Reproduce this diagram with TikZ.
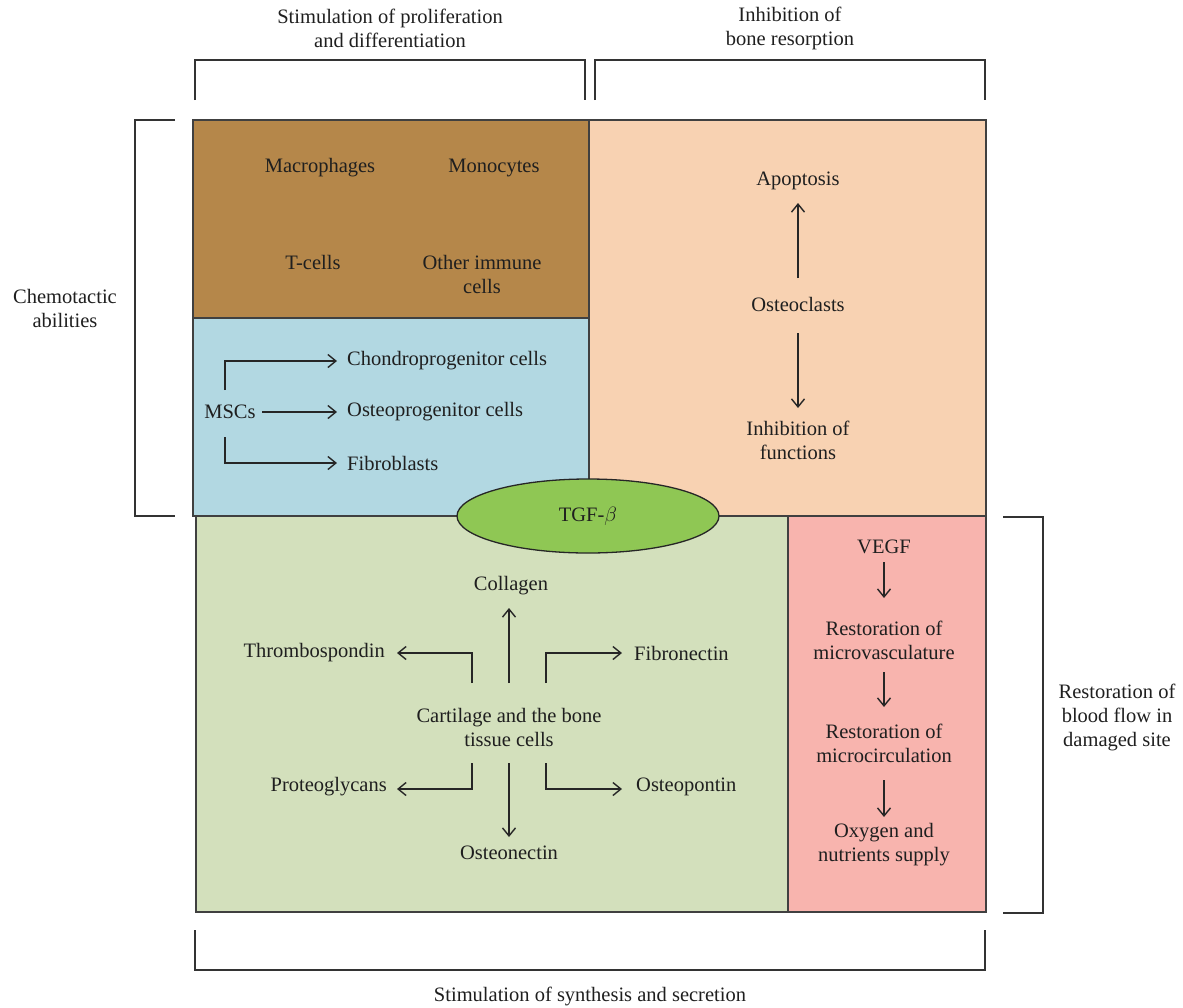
\documentclass[tikz,border=0pt]{standalone}
\usepackage{fontspec}
\setmainfont{Liberation Serif}
\usetikzlibrary{shapes.geometric,arrows.meta}

\definecolor{brownbox}{HTML}{B5874A}
\definecolor{bluebox}{HTML}{B2D8E2}
\definecolor{peachbox}{HTML}{F8D2B2}
\definecolor{greenbox}{HTML}{D3E0BC}
\definecolor{pinkbox}{HTML}{F8B4AE}
\definecolor{tgfgreen}{HTML}{8FC754}

\tikzset{
  label/.style={align=center, inner sep=3pt, text=black!88},
  panel/.style={draw=black!75, line width=1.3pt},
  flow/.style={-{Straight Barb[length=8pt,width=13pt]}, line width=1.4pt, draw=black!85},
  bracket/.style={line width=1.3pt, draw=black!80}
}

\begin{document}
\begin{tikzpicture}[x=1pt, y=-1pt, font=\fontsize{20.5}{24}\selectfont]
  \useasboundingbox (0,0) rectangle (1183,1007);

  % panels
  \path[panel, fill=brownbox] (193,120) rectangle (589,318);
  \path[panel, fill=bluebox]  (193,318) rectangle (589,516);
  \path[panel, fill=peachbox] (589,120) rectangle (986,516);
  \path[panel, fill=greenbox] (196,516) rectangle (788,912);
  \path[panel, fill=pinkbox]  (788,516) rectangle (986,912);

  \node[ellipse, draw=black!85, line width=1.3pt, fill=tgfgreen,
        minimum width=262pt, minimum height=74pt, label] (tgf) at (588,516) {TGF-$\beta$};

  % chemotaxis
  \node[label] (macro) at (320,168) {Macrophages};
  \node[label] (mono)  at (494,168) {Monocytes};
  \node[label] (tcell) at (313,262) {T-cells};
  \node[label] (immune) at (482,274) {Other immune\\cells};

  % MSCs
  \node[label] (msc)     at (230,412) {MSCs};
  \node[label, anchor=west] (chondro)  at (344,361) {Chondroprogenitor cells};
  \node[label, anchor=west] (osteopro) at (344,412) {Osteoprogenitor cells};
  \node[label, anchor=west] (fibro)    at (344,463) {Fibroblasts};

  \draw[flow] ([xshift=-5pt,yshift=22pt]msc.center) |- ([xshift=-7pt]chondro.west);
  \draw[flow] ([xshift=32pt]msc.center) -- ([xshift=-7pt]osteopro.west);
  \draw[flow] ([xshift=-5pt,yshift=-25pt]msc.center) |- ([xshift=-7pt]fibro.west);

  % bone resorption
  \node[label] (apop)   at (798,181) {Apoptosis};
  \node[label] (oclast) at (798,304) {Osteoclasts};
  \node[label] (inhib)  at (798,440) {Inhibition of\\functions};

  \draw[flow] ([yshift=26pt]oclast.center) -- ([yshift=-22pt]apop.center);
  \draw[flow] ([yshift=-29pt]oclast.center) -- ([yshift=32pt]inhib.center);

  % synthesis
  \node[label] (cart) at (509,727) {Cartilage and the bone\\tissue cells};
  \node[label] (collagen) at (511,586) {Collagen};
  \node[label, anchor=east] (thrombo)  at (388,653) {Thrombospondin};
  \node[label, anchor=west] (fibronec) at (631,653) {Fibronectin};
  \node[label, anchor=east] (proteo)   at (390,787) {Proteoglycans};
  \node[label, anchor=west] (osteopon) at (633,787) {Osteopontin};
  \node[label] (osteonec) at (509,853) {Osteonectin};

  \draw[flow] ([yshift=44pt]cart.center) -- ([xshift=-2pt,yshift=-22pt]collagen.center);
  \draw[flow] ([xshift=-37pt,yshift=44pt]cart.center) |- ([xshift=9pt]thrombo.east);
  \draw[flow] ([xshift=37pt,yshift=44pt]cart.center) |- ([xshift=-9pt]fibronec.west);
  \draw[flow] ([xshift=-37pt,yshift=-36pt]cart.center) |- ([xshift=7pt,yshift=-2pt]proteo.east);
  \draw[flow] ([xshift=37pt,yshift=-36pt]cart.center) |- ([xshift=-11pt,yshift=-2pt]osteopon.west);
  \draw[flow] ([yshift=-36pt]cart.center) -- ([yshift=16pt]osteonec.center);

  % blood flow
  \node[label] (vegf)  at (884,547) {VEGF};
  \node[label] (mvasc) at (884,640) {Restoration of\\microvasculature};
  \node[label] (mcirc) at (884,743) {Restoration of\\microcirculation};
  \node[label] (oxy)   at (884,845) {Oxygen and\\nutrients supply};

  \draw[flow] ([yshift=-15pt]vegf.center) -- ([yshift=42pt]mvasc.center);
  \draw[flow] ([yshift=-32pt]mvasc.center) -- ([yshift=36pt]mcirc.center);
  \draw[flow] ([yshift=-37pt]mcirc.center) -- ([yshift=28pt]oxy.center);

  % brackets
  \draw[bracket] (195,100) -- (195,60) -- (585,60) -- (585,100);
  \draw[bracket] (595,100) -- (595,60) -- (985,60) -- (985,100);
  \draw[bracket] (175,120) -- (135,120) -- (135,516) -- (175,516);
  \draw[bracket] (1003,517) -- (1043,517) -- (1043,913) -- (1003,913);
  \draw[bracket] (195,930) -- (195,970) -- (985,970) -- (985,930);

  \node[label] (prolif) at (390,28) {Stimulation of proliferation\\and differentiation};
  \node[label] (resorp) at (790,28) {Inhibition of\\bone resorption};
  \node[label] (chemo)  at (65,308) {Chemotactic\\abilities};
  \node[label] (blood)  at (1117,717) {Restoration of\\blood flow in\\damaged site};
  \node[label] (synth)  at (590,996) {Stimulation of synthesis and secretion};
\end{tikzpicture}
\end{document}
